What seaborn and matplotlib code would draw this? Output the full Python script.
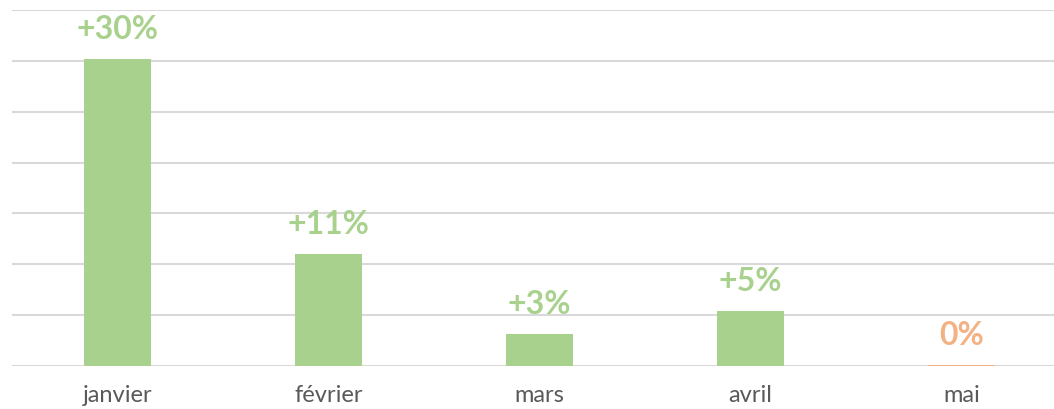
import matplotlib
matplotlib.use("Agg")
import matplotlib.pyplot as plt
import pandas as pd
import seaborn as sns

# data
mois = ["janvier", "février", "mars", "avril", "mai"]
variation = [30.2, 11.0, 3.1, 5.4, 0.1]
etiquettes = ["+30%", "+11%", "+3%", "+5%", "0%"]
couleurs = ["#A9D18E", "#A9D18E", "#A9D18E", "#A9D18E", "#F4B183"]

df = pd.DataFrame({"mois": mois, "variation": variation})

sns.set_theme(style="white")
plt.rcParams["font.family"] = ["Lato", "DejaVu Sans"]

fig = plt.figure(figsize=(10.54, 4.09), dpi=100)
ax = fig.add_axes([12 / 1054, 43 / 409, 1055 / 1054, 356 / 409])

sns.barplot(data=df, x="mois", y="variation", hue="mois", palette=couleurs,
            legend=False, width=0.32, ax=ax, saturation=1, linewidth=0)

ax.set_ylim(0, 35)
ax.set_yticks(range(0, 36, 5))
ax.yaxis.grid(True, color="#D9D9D9", linewidth=1.5)
ax.set_axisbelow(True)
ax.set_yticklabels([])
ax.tick_params(axis="y", length=0)
ax.tick_params(axis="x", length=0, pad=14, labelsize=17, labelcolor="#595959")
ax.set_xlabel("")
ax.set_ylabel("")
for s in ax.spines.values():
    s.set_visible(False)

for i, (v, t) in enumerate(zip(variation, etiquettes)):
    ax.annotate(t, (i, v), xytext=(0, 11), textcoords="offset points",
                ha="center", va="bottom", fontsize=23, fontweight="bold",
                color=couleurs[i])

fig.savefig("out.png", dpi=100)
